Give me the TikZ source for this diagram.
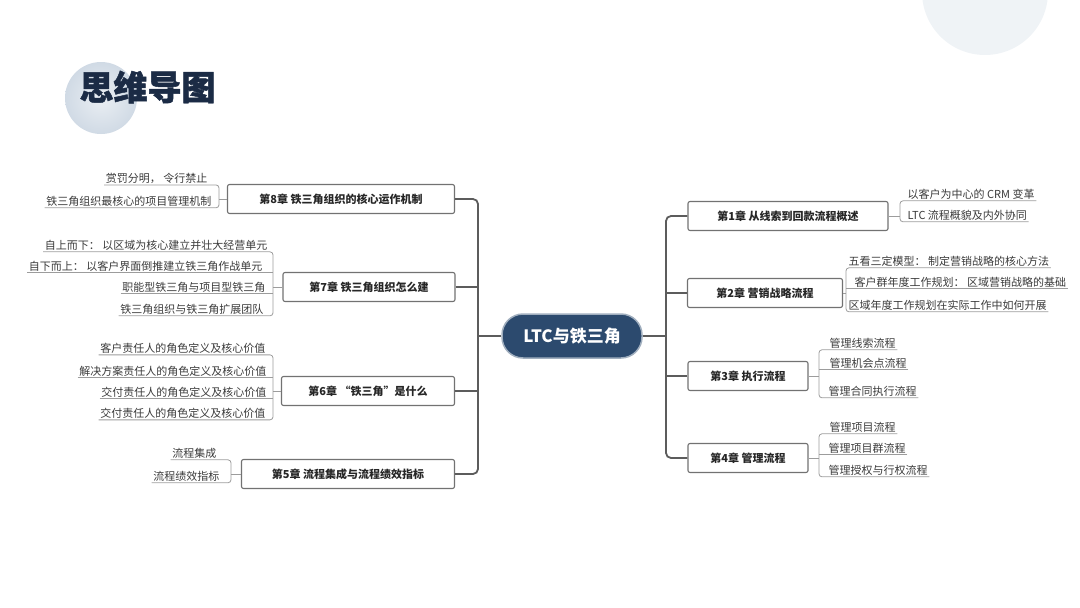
\documentclass[tikz,border=0pt]{standalone}
\usepackage{fontspec}
\setmainfont{Noto Sans CJK SC}
\newfontfamily\titlefont{Noto Sans CJK SC}[BoldFeatures={FakeBold=1.4}]
\usetikzlibrary{positioning}

\definecolor{navy}{HTML}{2C4A6E}
\definecolor{titleblue}{HTML}{1B2B45}
\definecolor{trunkgray}{HTML}{5C5C5C}
\definecolor{boxgray}{HTML}{727272}
\definecolor{leafgray}{HTML}{9C9C9C}
\definecolor{leaftext}{HTML}{3A3A3A}
\definecolor{mist}{HTML}{CBD6E2}

\tikzset{
  chapter/.style={draw=boxgray, line width=1.1pt, rounded corners=2pt, fill=white,
    minimum height=29pt, inner sep=2pt, font=\fontsize{11}{13}\selectfont\bfseries, text=black!85},
  leafL/.style={anchor=east, inner sep=1.5pt, font=\fontsize{11}{13}\selectfont, text=leaftext},
  leafR/.style={anchor=west, inner sep=1.5pt, font=\fontsize{11}{13}\selectfont, text=leaftext},
  trunk/.style={draw=trunkgray, line width=1.8pt, rounded corners=5pt},
  branch/.style={draw=leafgray, line width=0.8pt, rounded corners=3pt},
}

\begin{document}
\begin{tikzpicture}[x=1pt, y=-1pt]
\useasboundingbox (0,0) rectangle (1080,608);

% background
\fill[mist!30] (985,-8) circle (63);
\shade[inner color=mist!40, outer color=mist!90] (101,98) circle (36);
\node[anchor=west, font=\titlefont\fontsize{34}{40}\selectfont\bfseries, text=titleblue] (title) at (76,87) {思维导图};

% root
\node[fill=navy, draw=navy!45, line width=1.5pt, rounded corners=21pt, minimum width=140pt,
  minimum height=44pt, text=white, font=\fontsize{17}{20}\selectfont\bfseries] (root) at (572,336) {LTC与铁三角};
\coordinate (ltrunk) at (478,336);
\coordinate (rtrunk) at (666,336);

% chapters, left
\node[chapter, minimum width=227pt] (ch8) at (341,199) {第8章 铁三角组织的核心运作机制};
\node[chapter, minimum width=172pt] (ch7) at (369,287) {第7章 铁三角组织怎么建};
\node[chapter, minimum width=173pt] (ch6) at (368,391) {第6章 “铁三角”是什么};
\node[chapter, minimum width=213pt] (ch5) at (348,474) {第5章 流程集成与流程绩效指标};

% chapters, right
\node[chapter, minimum width=200pt] (ch1) at (788,216) {第1章 从线索到回款流程概述};
\node[chapter, minimum width=155pt] (ch2) at (765,293) {第2章 营销战略流程};
\node[chapter, minimum width=120pt] (ch3) at (748,376) {第3章 执行流程};
\node[chapter, minimum width=120pt] (ch4) at (748,458) {第4章 管理流程};

\draw[trunk] (root.west) -- (ltrunk);
\draw[trunk] (ch8.east) -| (ltrunk);
\draw[trunk] (ch5.east) -| (ltrunk);
\draw[trunk] (ch7.east) -- (ch7.east -| ltrunk);
\draw[trunk] (ch6.east) -- (ch6.east -| ltrunk);
\draw[trunk] (root.east) -- (rtrunk);
\draw[trunk] (ch1.west) -| (rtrunk);
\draw[trunk] (ch4.west) -| (rtrunk);
\draw[trunk] (ch2.west) -- (ch2.west -| rtrunk);
\draw[trunk] (ch3.west) -- (ch3.west -| rtrunk);

% leaves of chapter 8
\coordinate (b8) at (219,199);
\node[leafL] (l81) at (209,178) {赏罚分明， 令行禁止};
\node[leafL] (l82) at (213,201) {铁三角组织最核心的项目管理机制};
\draw[branch] (ch8.west) -- (ch8.west -| b8);
\draw[branch] (l81.south west) -- (l81.south -| b8) -- (l82.south -| b8) -- (l82.south west);

% leaves of chapter 7
\coordinate (b7) at (273,287);
\node[leafL] (l71) at (269,245) {自上而下： 以区域为核心建立并壮大经营单元};
\node[leafL] (l72) at (264,266) {自下而上： 以客户界面倒推建立铁三角作战单元};
\node[leafL] (l73) at (267,287) {职能型铁三角与项目型铁三角};
\node[leafL] (l74) at (265,309) {铁三角组织与铁三角扩展团队};
\draw[branch] (ch7.west) -- (ch7.west -| b7);
\draw[branch] (l71.south west) -- (l71.south -| b7) -- (l74.south -| b7) -- (l74.south west);
\draw[branch] (l72.south west) -- (l72.south -| b7);
\draw[branch] (l73.south west) -- (l73.south -| b7);

% leaves of chapter 6
\coordinate (b6) at (273,391);
\node[leafL] (l61) at (267,348) {客户责任人的角色定义及核心价值};
\node[leafL] (l62) at (268,371) {解决方案责任人的角色定义及核心价值};
\node[leafL] (l63) at (268,392) {交付责任人的角色定义及核心价值};
\node[leafL] (l64) at (267,413) {交付责任人的角色定义及核心价值};
\draw[branch] (ch6.west) -- (ch6.west -| b6);
\draw[branch] (l61.south west) -- (l61.south -| b6) -- (l64.south -| b6) -- (l64.south west);
\draw[branch] (l62.south west) -- (l62.south -| b6);
\draw[branch] (l63.south west) -- (l63.south -| b6);

% leaves of chapter 5
\coordinate (b5) at (231,474);
\node[leafL] (l51) at (218,453) {流程集成};
\node[leafL] (l52) at (221,476) {流程绩效指标};
\draw[branch] (ch5.west) -- (ch5.west -| b5);
\draw[branch] (l51.south west) -- (l51.south -| b5) -- (l52.south -| b5) -- (l52.south west);

% leaves of chapter 1
\coordinate (b1) at (900,216);
\node[leafR] (l11) at (906,194) {以客户为中心的 CRM 变革};
\node[leafR] (l12) at (906,215) {LTC 流程概貌及内外协同};
\draw[branch] (ch1.east) -- (ch1.east -| b1);
\draw[branch] (l11.south east) -- (l11.south -| b1) -- (l12.south -| b1) -- (l12.south east);

% leaves of chapter 2
\coordinate (b2) at (846,293);
\node[leafR] (l21) at (847,261) {五看三定模型： 制定营销战略的核心方法};
\node[leafR] (l22) at (853,282) {客户群年度工作规划： 区域营销战略的基础};
\node[leafR] (l23) at (847,305) {区域年度工作规划在实际工作中如何开展};
\draw[branch] (ch2.east) -- (ch2.east -| b2);
\draw[branch] (l21.south east) -- (l21.south -| b2) -- (l23.south -| b2) -- (l23.south east);
\draw[branch] (l22.south east) -- (l22.south -| b2);

% leaves of chapter 3
\coordinate (b3) at (819,376);
\node[leafR] (l31) at (828,343) {管理线索流程};
\node[leafR] (l32) at (828,363) {管理机会点流程};
\node[leafR] (l33) at (827,391) {管理合同执行流程};
\draw[branch] (ch3.east) -- (ch3.east -| b3);
\draw[branch] (l31.south east) -- (l31.south -| b3) -- (l33.south -| b3) -- (l33.south east);
\draw[branch] (l32.south east) -- (l32.south -| b3);

% leaves of chapter 4
\coordinate (b4) at (819,458);
\node[leafR] (l41) at (828,427) {管理项目流程};
\node[leafR] (l42) at (827,448) {管理项目群流程};
\node[leafR] (l43) at (827,470) {管理授权与行权流程};
\draw[branch] (ch4.east) -- (ch4.east -| b4);
\draw[branch] (l41.south east) -- (l41.south -| b4) -- (l43.south -| b4) -- (l43.south east);
\draw[branch] (l42.south east) -- (l42.south -| b4);
\end{tikzpicture}
\end{document}
